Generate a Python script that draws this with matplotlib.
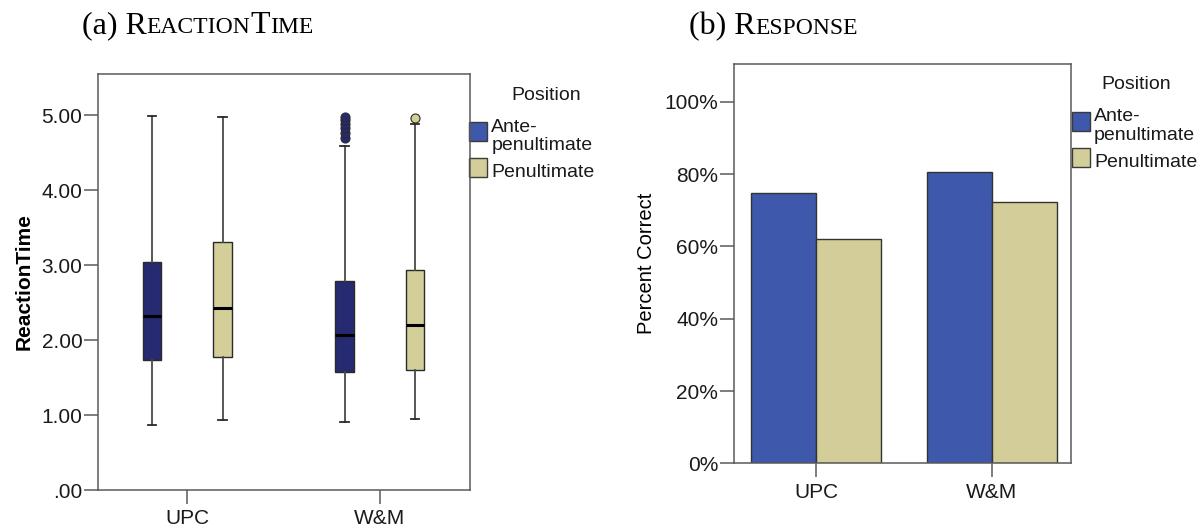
import matplotlib
matplotlib.use("Agg")
import matplotlib.pyplot as plt
from matplotlib.patches import Rectangle

plt.rcParams['font.family'] = ['Liberation Sans', 'DejaVu Sans']

groups = ['UPC', 'W&M']
positions = ['Ante-\npenultimate', 'Penultimate']

# reaction time box statistics, per group: [ante-penultimate, penultimate]
rt_whislo = [[0.87, 0.93], [0.91, 0.95]]
rt_q1 = [[1.73, 1.78], [1.57, 1.60]]
rt_med = [[2.32, 2.43], [2.07, 2.20]]
rt_q3 = [[3.04, 3.31], [2.79, 2.93]]
rt_whishi = [[4.99, 4.98], [4.59, 4.88]]
rt_fliers = [[[], []], [[4.70, 4.76, 4.83, 4.88, 4.93, 4.98], [4.96]]]

# percent correct per group: [ante-penultimate, penultimate]
pct_correct = [[74.9, 62.1], [80.7, 72.2]]

dark_fill = ['#262a70', '#d4cf99']
legend_fill = ['#3e58ab', '#d3ce99']
bar_fill = ['#3e58ab', '#d3ce99']
frame_col = '#5a5a5a'

fig = plt.figure(figsize=(12.04, 5.29), dpi=100)
W, H = 1204, 529


def px_axes(left, top, right, bottom):
    return fig.add_axes([left / W, 1 - bottom / H, (right - left) / W, (bottom - top) / H])


def style_frame(ax):
    for sp in ax.spines.values():
        sp.set_color(frame_col)
        sp.set_linewidth(1.1)
    ax.tick_params(axis='both', direction='out', length=10, width=1.1,
                   color=frame_col, labelsize=15, labelcolor='#1a1a1a')
    ax.tick_params(axis='y', pad=1)
    ax.tick_params(axis='x', pad=4)


def side_legend(ax, fills, xpatch, pw, ytops, ph, xtext, baselines, xtitle, ytitle):
    for fc, yt in zip(fills, ytops):
        ax.add_patch(Rectangle((xpatch, yt - ph), pw, ph, transform=ax.transAxes,
                               facecolor=fc, edgecolor='#3a3a3a', lw=1.0, clip_on=False))
    lines = ['Ante-', 'penultimate', 'Penultimate']
    for txt, yb in zip(lines, baselines):
        ax.text(xtext, yb, txt, transform=ax.transAxes, fontsize=14,
                va='baseline', ha='left', color='#1a1a1a')
    ax.text(xtitle, ytitle, 'Position', transform=ax.transAxes, fontsize=14,
            va='baseline', ha='center', color='#1a1a1a')


def small_caps_title(x, y, parts):
    # parts: list of (text, size) drawn one after another on the same baseline
    renderer = fig.canvas.get_renderer()
    cur = x
    for txt, size in parts:
        t = fig.text(cur / W, 1 - y / H, txt, fontsize=size, va='baseline', ha='left',
                     family=['Liberation Serif', 'DejaVu Serif'], color='black')
        bb = t.get_window_extent(renderer)
        cur += bb.width


# (a) reaction time boxplots
ax1 = px_axes(97.7, 74, 470, 490)
off = 0.183
stats = []
pos = []
for gi in range(len(groups)):
    for pi in range(len(positions)):
        stats.append(dict(med=rt_med[gi][pi], q1=rt_q1[gi][pi], q3=rt_q3[gi][pi],
                          whislo=rt_whislo[gi][pi], whishi=rt_whishi[gi][pi],
                          fliers=rt_fliers[gi][pi]))
        pos.append(gi + (-off if pi == 0 else off))

bp = ax1.bxp(stats, positions=pos, widths=0.097, capwidths=0.043, patch_artist=True,
             boxprops=dict(edgecolor='#2a2a2a', linewidth=1.0),
             medianprops=dict(color='black', linewidth=2.2),
             whiskerprops=dict(color='#4a4a4a', linewidth=1.3),
             capprops=dict(color='#2a2a2a', linewidth=1.3),
             flierprops=dict(marker='o', markersize=6.5, markeredgecolor='#2a2a2a',
                             markeredgewidth=0.8))
for i, box in enumerate(bp['boxes']):
    box.set_facecolor(dark_fill[i % 2])
for i, fl in enumerate(bp['fliers']):
    fl.set_markerfacecolor(dark_fill[i % 2])

ax1.set_xlim(-0.466, 1.469)
ax1.set_ylim(0, 5.547)
ax1.set_yticks([0, 1, 2, 3, 4, 5])
ax1.set_yticklabels(['.00', '1.00', '2.00', '3.00', '4.00', '5.00'])
ax1.set_xticks([0, 1])
ax1.set_xticklabels(groups)
style_frame(ax1)
ax1.set_ylabel('ReactionTime', fontsize=15, fontweight='bold', labelpad=6)

side_legend(ax1, legend_fill, 0.997, 0.049, [0.8846, 0.798], 0.046,
            1.057, [0.860, 0.817, 0.753], 1.204, 0.9375)

# (b) percent correct bars
ax2 = px_axes(733.5, 64, 1071, 463.3)
bw = 0.37
for pi in range(len(positions)):
    vals = [pct_correct[gi][pi] for gi in range(len(groups))]
    xs = [gi + (-bw / 2 if pi == 0 else bw / 2) for gi in range(len(groups))]
    ax2.bar(xs, vals, width=bw, color=bar_fill[pi], edgecolor='#333333', linewidth=1.0)

ax2.set_xlim(-0.469, 1.449)
ax2.set_ylim(0, 110.5)
ax2.set_yticks([0, 20, 40, 60, 80, 100])
ax2.set_yticklabels(['0%', '20%', '40%', '60%', '80%', '100%'])
ax2.set_xticks([0, 1])
ax2.set_xticklabels(groups)
style_frame(ax2)
ax2.set_ylabel('Percent Correct', fontsize=14.5, labelpad=6)

side_legend(ax2, legend_fill, 1.003, 0.053, [0.880, 0.790], 0.048,
            1.068, [0.857, 0.810, 0.743], 1.193, 0.937)

small_caps_title(81.7, 33.3, [('(a) R', 23), ('EACTION', 17), ('T', 23), ('IME', 17)])
small_caps_title(689, 34, [('(b) R', 23), ('ESPONSE', 17)])

fig.savefig('out.png', dpi=100)
